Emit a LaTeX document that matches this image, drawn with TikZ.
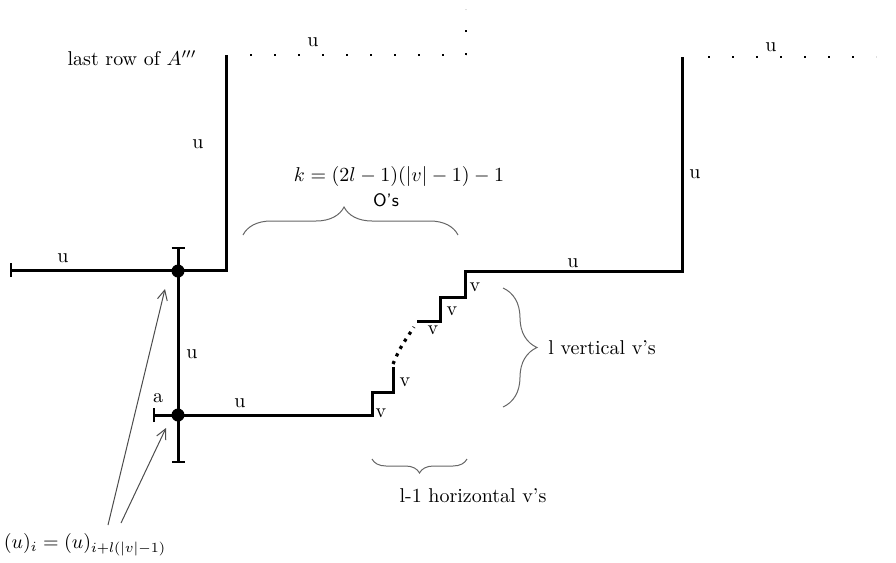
\documentclass[tikz,border=0pt]{standalone}
\usetikzlibrary{decorations.pathreplacing,arrows.meta}
\begin{document}
\begin{tikzpicture}[x=0.5pt,y=-0.5pt,
  thickline/.style={line width=1.5pt},
  endbar/.style={{Bar[width=7pt,line width=1pt]}-},
  dotline/.style={line width=1.2pt,dash pattern=on 1.2pt off 10.8pt},
  vdotline/.style={line width=1.2pt,dash pattern=on 1.2pt off 10.3pt},
  dotnode/.style={circle,fill=black,inner sep=0pt,minimum size=6.5pt},
  lab/.style={inner sep=1pt,font=\normalsize},
  bracestyle/.style={draw=black!60,line width=0.5pt,decorate},
  pointer/.style={draw=black!70,line width=0.5pt,-{Straight Barb[length=5pt,width=5pt]}}]
\useasboundingbox (0,0) rectangle (896,563);
% corner points
\coordinate (tl) at (226,55);
\coordinate (c1) at (226,270);
\coordinate (le) at (10,270);
\coordinate (vt) at (178,247);
\coordinate (vb) at (178,463);
\coordinate (ae) at (153,415);
\coordinate (s0) at (372,415);
\coordinate (s1) at (372,392);
\coordinate (s2) at (393,392);
\coordinate (s3) at (393,367);
\coordinate (d1) at (393,364);
\coordinate (d2) at (414,327);
\coordinate (s4) at (417,321);
\coordinate (s5) at (440,321);
\coordinate (s6) at (440,297);
\coordinate (s7) at (465,297);
\coordinate (s8) at (465,271);
\coordinate (r1) at (682,271);
\coordinate (rt) at (682,57);
% dotted rows
\coordinate (t1) at (250,55);
\coordinate (t2) at (466,55);
\coordinate (t3) at (466,9);
\coordinate (q1) at (708,57);
\coordinate (q2) at (876,57);
% thick lines
\draw[thickline,endbar] (le) -- (c1) -- (tl);
\draw[thickline,{Bar[width=6.5pt,line width=1pt]}-{Bar[width=6.5pt,line width=1pt]}] (vt) -- (vb);
\draw[thickline,endbar] (ae) -- (s0) -- (s1) -- (s2) -- (s3);
\draw[thickline] (s4) -- (s5) -- (s6) -- (s7) -- (s8) -- (r1) -- (rt);
\draw[line width=1.6pt,dash pattern=on 1.6pt off 2.6pt] (d1) .. controls (400,348) .. (d2);
\draw[dotline] (t1) -- (t2);
\draw[vdotline] (t2) -- (t3);
\draw[dotline] (q1) -- (q2);
% junction dots
\node[dotnode] (p1) at (178,271) {};
\node[dotnode] (p2) at (178,415) {};
% labels
\node[lab] (lr) at (132,58) {last row of $A'''$};
\node[lab] (u1) at (198,144) {u};
\node[lab] (u2) at (63,258) {u};
\node[lab] (u3) at (192,354) {u};
\node[lab] (u4) at (240,403) {u};
\node[lab] (u5) at (573,263) {u};
\node[lab] (u6) at (695,174) {u};
\node[lab] (u7) at (313,42) {u};
\node[lab] (u8) at (771,47) {u};
\node[lab] (al) at (158,398) {a};
\node[lab] (v1) at (475,287) {v};
\node[lab] (v2) at (452,311) {v};
\node[lab] (v3) at (433,330) {v};
\node[lab] (v4) at (405,382) {v};
\node[lab] (v5) at (381,413) {v};
\node[lab] (kf) at (399,176) {$k=(2l-1)(|v|-1)-1$};
\node[lab,font=\sffamily\small] (os) at (386,200) {O's};
\node[lab] (vv) [anchor=west] at (546,348) {l vertical v's};
\node[lab] (hv) at (473,496) {l-1 horizontal v's};
\node[lab] (eq) at (85,545) {$(u)_i=(u)_{i+l(|v|-1)}$};
% braces
\coordinate (b1) at (243,235);
\coordinate (b2) at (458,235);
\coordinate (b3) at (503,288);
\coordinate (b4) at (503,407);
\coordinate (b5) at (467,459);
\coordinate (b6) at (372,459);
\draw[bracestyle,decoration={brace,amplitude=14pt,aspect=0.47}] (b1) -- (b2);
\draw[bracestyle,decoration={brace,amplitude=17pt}] (b3) -- (b4);
\draw[bracestyle,decoration={brace,amplitude=7pt}] (b5) -- (b6);
% pointers
\coordinate (a1s) at (108,525);
\coordinate (a1e) at (165,289);
\coordinate (a2s) at (121,523);
\coordinate (a2e) at (166,428);
\draw[pointer] (a1s) -- (a1e);
\draw[pointer] (a2s) -- (a2e);
\end{tikzpicture}
\end{document}
